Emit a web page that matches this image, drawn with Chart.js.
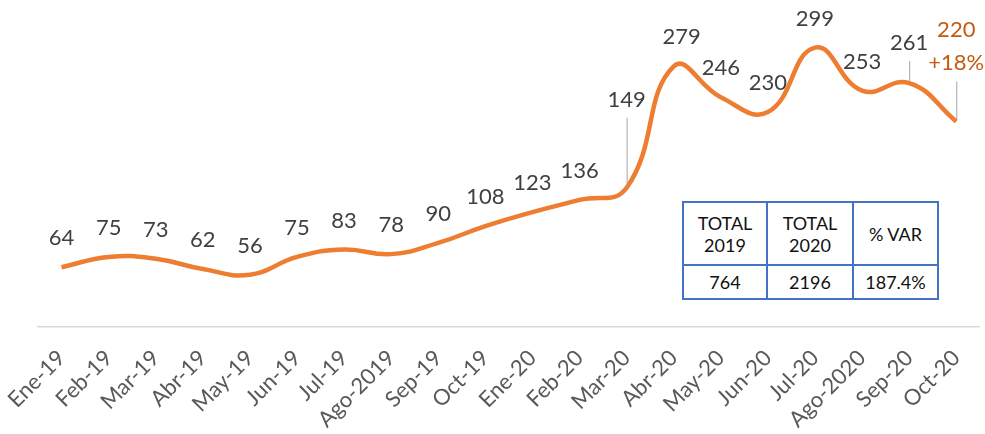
<!DOCTYPE html>
<html>
<head>
    <meta charset="utf-8">
    <title>Evolución mensual</title>
    <script src="https://cdn.jsdelivr.net/npm/chart.js"></script>
    <style>
        body { margin: 0; background: #fff; }
        .wrap { position: relative; width: 985px; height: 434px; }
        #totales {
            position: absolute;
            left: 682px;
            top: 201px;
            border-collapse: collapse;
            font-family: Lato, sans-serif;
            font-size: 18px;
            color: #111;
            text-align: center;
            background: #fff;
        }
        #totales td {
            border: 2px solid #4472C4;
            padding: 0;
            line-height: 22px;
        }
    </style>
</head>
<body>
<div class="wrap">
    <canvas id="lineChart"></canvas>
    <table id="totales">
        <tr style="height:63px">
            <td style="width:82px">TOTAL<br>2019</td>
            <td style="width:84px">TOTAL<br>2020</td>
            <td style="width:83px">% VAR</td>
        </tr>
        <tr style="height:34px">
            <td id="t2019"></td>
            <td id="t2020"></td>
            <td id="tvar"></td>
        </tr>
    </table>
</div>
<script>
    const labels2019 = ['Ene-19', 'Feb-19', 'Mar-19', 'Abr-19', 'May-19', 'Jun-19', 'Jul-19', 'Ago-2019', 'Sep-19', 'Oct-19'];
    const labels2020 = ['Ene-20', 'Feb-20', 'Mar-20', 'Abr-20', 'May-20', 'Jun-20', 'Jul-20', 'Ago-2020', 'Sep-20', 'Oct-20'];
    const values2019 = [64, 75, 73, 62, 56, 75, 83, 78, 90, 108];
    const values2020 = [123, 136, 149, 279, 246, 230, 299, 253, 261, 220];
    const lastNote = '+18%';

    const labels = labels2019.concat(labels2020);
    const values = values2019.concat(values2020);

    // totals table
    const sum = arr => arr.reduce((a, b) => a + b, 0);
    const total19 = sum(values2019);
    const total20 = sum(values2020);
    document.getElementById('t2019').textContent = total19;
    document.getElementById('t2020').textContent = total20;
    document.getElementById('tvar').textContent = ((total20 - total19) / total19 * 100).toFixed(1) + '%';

    // value labels above the line, some lifted with a grey leader line
    const valueLabels = {
        id: 'valueLabels',
        afterDatasetsDraw(chart, args, opts) {
            const ctx = chart.ctx;
            const meta = chart.getDatasetMeta(0);
            const last = meta.data.length - 1;
            ctx.save();
            ctx.font = '22px Lato';
            ctx.textAlign = 'center';
            ctx.textBaseline = 'middle';
            meta.data.forEach((pt, i) => {
                const lift = opts.lifted[i];
                let y = pt.y - opts.gap;
                if (lift) {
                    y = pt.y - lift.up;
                    ctx.strokeStyle = '#a6a6a6';
                    ctx.lineWidth = 1;
                    ctx.beginPath();
                    ctx.moveTo(pt.x + 0.5, pt.y - 2);
                    ctx.lineTo(pt.x + 0.5, y + lift.lineTop);
                    ctx.stroke();
                }
                if (i === last) {
                    ctx.fillStyle = '#C55A11';
                    ctx.fillText(values[i], pt.x, y);
                    ctx.fillText(lastNote, pt.x, y + 33);
                } else {
                    ctx.fillStyle = '#404040';
                    ctx.fillText(values[i], pt.x + (opts.shift[i] || 0), y);
                }
            });
            ctx.restore();
        }
    };

    const ctx = document.getElementById('lineChart').getContext('2d');
    new Chart(ctx, {
        type: 'line',
        data: {
            labels: labels,
            datasets: [{
                data: values,
                borderColor: '#ED7D31',
                borderWidth: 4.5,
                pointRadius: 0,
                tension: 0.45,
                fill: false
            }]
        },
        options: {
            responsive: true,
            maintainAspectRatio: false,
            animation: false,
            layout: { padding: { left: 38, right: 3, top: 0, bottom: 0 } },
            plugins: {
                legend: { display: false },
                tooltip: { enabled: false },
                valueLabels: {
                    gap: 29,
                    shift: { 13: 8 },
                    lifted: {
                        12: { up: 88, lineTop: 18 },
                        18: { up: 40, lineTop: 18 },
                        19: { up: 92, lineTop: 52 }
                    }
                }
            },
            scales: {
                x: {
                    offset: true,
                    grid: { display: false },
                    border: { display: true, color: '#d9d9d9', width: 1.5 },
                    ticks: {
                        autoSkip: false,
                        minRotation: 45,
                        maxRotation: 45,
                        padding: 10,
                        color: '#595959',
                        font: { family: 'Lato', size: 22 }
                    },
                    afterFit(scale) { scale.height = 107; }
                },
                y: {
                    display: false,
                    min: 0,
                    max: 350
                }
            }
        },
        plugins: [valueLabels]
    });
</script>
</body>
</html>
